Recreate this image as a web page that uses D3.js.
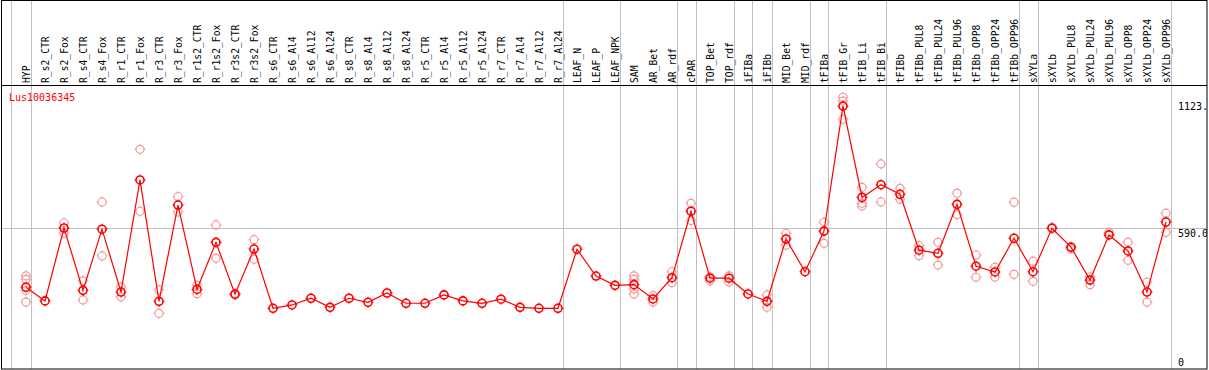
<!DOCTYPE html>
<html>
<head>
<meta charset="utf-8">
<script src="https://cdn.jsdelivr.net/npm/d3@7"></script>
<style>
  body { margin: 0; background: #fff; }
  svg text { font-family: "DejaVu Sans Mono", monospace; }
</style>
</head>
<body>
<div id="chart"></div>
<script>
// sample names, left to right
var samples = ["HYP","R_s2_CTR","R_s2_Fox","R_s4_CTR","R_s4_Fox","R_r1_CTR","R_r1_Fox","R_r3_CTR","R_r3_Fox",
  "R_r1s2_CTR","R_r1s2_Fox","R_r3s2_CTR","R_r3s2_Fox","R_s6_CTR","R_s6_Al4","R_s6_Al12","R_s6_Al24",
  "R_s8_CTR","R_s8_Al4","R_s8_Al12","R_s8_Al24","R_r5_CTR","R_r5_Al4","R_r5_Al12","R_r5_Al24",
  "R_r7_CTR","R_r7_Al4","R_r7_Al12","R_r7_Al24","LEAF_N","LEAF_P","LEAF_NPK","SAM","AR_Bet","AR_rdf",
  "cPAR","TOP_Bet","TOP_rdf","iFIBa","iFIBb","MID_Bet","MID_rdf","tFIBa","tFIB_Gr","tFIB_Li","tFIB_Bi",
  "tFIBb","tFIBb_PUL8","tFIBb_PUL24","tFIBb_PUL96","tFIBb_OPP8","tFIBb_OPP24","tFIBb_OPP96",
  "sXYLa","sXYLb","sXYLb_PUL8","sXYLb_PUL24","sXYLb_PUL96","sXYLb_OPP8","sXYLb_OPP24","sXYLb_OPP96"];

// mean expression per sample
var means = [342,285,590,329,585,322,791,283,686,333,530,313,502,254,268,296,258,296,279,318,275,275,310,285,
  275,292,258,254,254,501,389,350,353,293,382,660,380,380,314,283,544,407,577,1100,718,771,731,497,484,689,
  430,406,547,407,589,510,372,561,494,322,615];

// individual replicates per sample
var reps = [[390,375,329,280],[],[612,568],[369,289],[699,473],[344,302],[919,660],[331,233],[721,657],
  [351,315],[603,463],[317,310],[541,459],[],[],[],[],[],[],[],[],[],[],[],[],[],[],[],[],[],[],[],
  [390,375,335,314],[307,280],[407,361],[693,621],[386,369],[390,364],[],[310,258],[568,518],[],[614,526],
  [1137,1121,1045],[760,693,682],[858,699],[756,710],[516,474],[530,435],[735,646],[477,384],[426,385],
  [698,396],[451,367],[593],[502],[353,386],[572],[530,455],[363,280],[652,572]];

// index of last sample in each group (gray separators)
var groupEnds = [-1,0,28,31,34,35,37,38,39,41,42,45,52,53,60];
var gridValues = [590];
var axisLabels = [["1123.",1123],["590.0",590],["0",0]];
var geneName = "Lus10036345";

var W = 1209, H = 370, headerY = 85, bottom = 369, right = 1207;

var svg = d3.select('#chart').append('svg')
  .attr('width', W).attr('height', H);

var x = d3.scaleLinear().domain([0, samples.length - 1]).range([26, 1166]);
var y = d3.scaleLinear().domain([0, 1123]).range([bottom, 100.6]);

svg.append('defs').append('clipPath').attr('id', 'clip')
  .append('rect').attr('x', 1).attr('y', 0).attr('width', right - 1).attr('height', bottom);

// horizontal grid
svg.selectAll('.hgrid').data(gridValues).enter().append('line')
  .attr('x1', 1).attr('x2', right)
  .attr('y1', function(d){ return Math.round(y(d)) + 0.5; })
  .attr('y2', function(d){ return Math.round(y(d)) + 0.5; })
  .style('stroke', '#c0c0c0');

// group separators
svg.selectAll('.vgrid').data(groupEnds).enter().append('line')
  .attr('x1', function(d){ return Math.round(x(d) + 4.5) + 0.5; })
  .attr('x2', function(d){ return Math.round(x(d) + 4.5) + 0.5; })
  .attr('y1', 0).attr('y2', bottom)
  .style('stroke', '#c0c0c0');

// frame
svg.append('rect').attr('x', 1.5).attr('y', 0.5).attr('width', right - 1.5).attr('height', bottom - 0.5)
  .style('fill', 'none').style('stroke', '#000');
svg.append('line').attr('x1', 1).attr('x2', right).attr('y1', headerY + 0.5).attr('y2', headerY + 0.5)
  .style('stroke', '#000');

// rotated sample labels
svg.selectAll('.lab').data(samples).enter().append('text')
  .attr('transform', function(d, i){ return 'translate(' + (x(i) + 0.5) + ',' + (headerY - 2) + ') rotate(-90)'; })
  .attr('dy', '0.35em')
  .style('font-size', '9.7px')
  .style('fill', '#000')
  .text(function(d){ return d; });

var plot = svg.append('g').attr('clip-path', 'url(#clip)');

function marker(g, cx, cy, color, sw) {
  g.append('circle').attr('cx', cx).attr('cy', cy).attr('r', 4)
    .style('fill', 'none').style('stroke', color).style('stroke-width', sw);
  [[0,-1],[0,1],[-1,0],[1,0]].forEach(function(p){
    g.append('line')
      .attr('x1', cx + p[0]*4).attr('y1', cy + p[1]*4)
      .attr('x2', cx + p[0]*5.5).attr('y2', cy + p[1]*5.5)
      .style('stroke', color).style('stroke-width', 1);
  });
}

// replicates
var repG = plot.append('g');
reps.forEach(function(arr, i){
  arr.forEach(function(v){ marker(repG, x(i), y(v), '#f09a9a', 1.2); });
});

// mean line
var line = d3.line().x(function(d, i){ return x(i); }).y(function(d){ return y(d); });
plot.append('path').datum(means).attr('d', line)
  .style('fill', 'none').style('stroke', '#ff0000').style('stroke-width', 1.2);

var meanG = plot.append('g');
means.forEach(function(v, i){ marker(meanG, x(i), y(v), '#ff0000', 1.6); });

// gene name
plot.append('text').attr('x', 9).attr('y', 101)
  .style('font-size', '10px').style('fill', '#ff0000').text(geneName);

// value labels on the right
plot.selectAll('.vlab').data(axisLabels).enter().append('text')
  .attr('x', 1178)
  .attr('y', function(d){ return Math.min(y(d[1]) + 9, 366); })
  .style('font-size', '10px').style('fill', '#000')
  .text(function(d){ return d[0]; });
</script>
</body>
</html>
